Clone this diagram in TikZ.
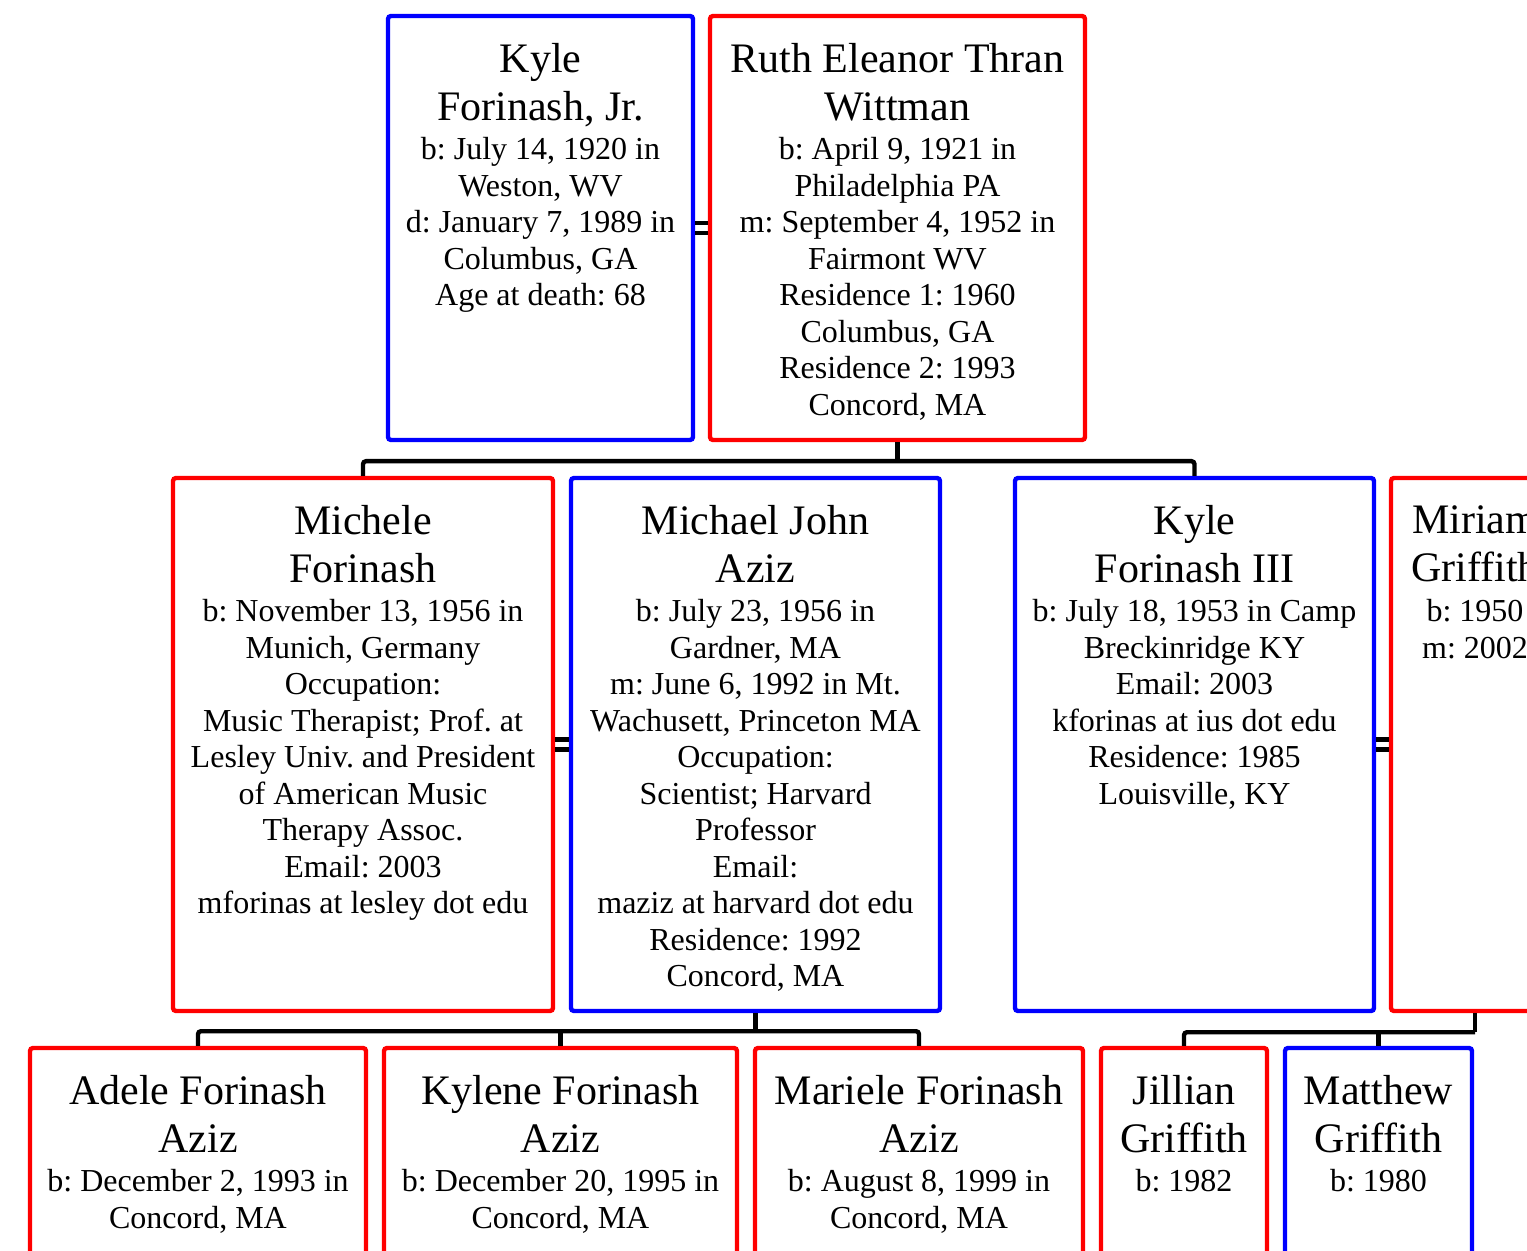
\documentclass[tikz,border=0pt]{standalone}
\usepackage{fontspec}
\setmainfont{Liberation Serif}
\usetikzlibrary{fit}
\frenchspacing
\tikzset{
  pbox/.style={draw=#1, line width=2.2pt, rounded corners=1.5pt, inner sep=0pt},
  namefont/.style={anchor=north, inner sep=0pt, align=center, font=\fontsize{21}{24}\selectfont},
  infofont/.style={anchor=north, inner sep=0pt, align=center, font=\fontsize{16}{18.25}\selectfont},
  conn/.style={draw=black, line width=2.2pt, rounded corners=1.5pt},
  eqbar/.style={draw=black, line width=2.2pt}
}
\newcommand\famperson[6]{%
  \node[pbox=#2, fit={#3}] (#1) {};
  \node[namefont, yshift=-14.7pt] (#1-name) at (#1.north) {#5};
  \node[infofont, yshift=-61.6pt] (#1-info) at (#1.north) {#6};
  \node[inner sep=0pt] (#1-c) at (#1.center) {#4};
}
\begin{document}
\begin{tikzpicture}[x=0.5pt,y=-0.5pt]
\useasboundingbox (0,0) rectangle (1527,1251);
\fill[white] (0,0) rectangle (1527,1251);
\clip (0,0) rectangle (1527,1251);

\famperson{kj}{blue}{(388,16) (693,440)}{}{Kyle\\Forinash, Jr.}{b: July 14, 1920 in\\Weston, WV\\d: January 7, 1989 in\\Columbus, GA\\Age at death: 68}
\famperson{ruth}{red}{(710,16) (1085,440)}{}{Ruth Eleanor Thran\\Wittman}{b: April 9, 1921 in\\Philadelphia PA\\m: September 4, 1952 in\\Fairmont WV\\Residence 1: 1960\\Columbus, GA\\Residence 2: 1993\\Concord, MA}

\famperson{michele}{red}{(173,478) (553,1011)}{}{Michele\\Forinash}{b: November 13, 1956 in\\Munich, Germany\\Occupation:\\Music Therapist; Prof. at\\Lesley Univ. and President\\of American Music\\Therapy Assoc.\\Email: 2003\\mforinas at lesley dot edu}
\famperson{michael}{blue}{(571,478) (940,1011)}{}{Michael John\\Aziz}{b: July 23, 1956 in\\Gardner, MA\\m: June 6, 1992 in Mt.\\Wachusett, Princeton MA\\Occupation:\\Scientist; Harvard\\Professor\\Email:\\maziz at harvard dot edu\\Residence: 1992\\Concord, MA}
\famperson{kyle3}{blue}{(1015,478) (1374,1011)}{}{Kyle\\Forinash III}{b: July 18, 1953 in Camp\\Breckinridge KY\\Email: 2003\\kforinas at ius dot edu\\Residence: 1985\\Louisville, KY}
\famperson{miriam}{red}{(1391,478) (1559,1011)}{}{Miriam\\Griffith}{b: 1950\\m: 2002}

\famperson{adele}{red}{(30,1048) (366,1320)}{}{Adele Forinash\\Aziz}{b: December 2, 1993 in\\Concord, MA}
\famperson{kylene}{red}{(384,1048) (737,1320)}{}{Kylene Forinash\\Aziz}{b: December 20, 1995 in\\Concord, MA}
\famperson{mariele}{red}{(755,1048) (1083,1320)}{}{Mariele Forinash\\Aziz}{b: August 8, 1999 in\\Concord, MA}
\famperson{jillian}{red}{(1101,1048) (1267,1320)}{}{Jillian\\Griffith}{b: 1982}
\famperson{matthew}{blue}{(1285,1048) (1472,1320)}{}{Matthew\\Griffith}{b: 1980}

% marriages
\draw[eqbar] ([yshift=2.5pt]kj.east) -- ([yshift=2.5pt]kj.east -| ruth.west);
\draw[eqbar] ([yshift=-2.5pt]kj.east) -- ([yshift=-2.5pt]kj.east -| ruth.west);
\draw[eqbar] ([yshift=2.5pt]michele.east) -- ([yshift=2.5pt]michele.east -| michael.west);
\draw[eqbar] ([yshift=-2.5pt]michele.east) -- ([yshift=-2.5pt]michele.east -| michael.west);
\draw[eqbar] ([yshift=2.5pt]kyle3.east) -- ([yshift=2.5pt]kyle3.east -| miriam.west);
\draw[eqbar] ([yshift=-2.5pt]kyle3.east) -- ([yshift=-2.5pt]kyle3.east -| miriam.west);

% descent lines
\draw[conn] (ruth.south) -- ++(0,19) coordinate (bar1);
\draw[conn] (michele.north) |- (bar1) -| (kyle3.north);

\draw[conn] (michael.south) -- ++(0,18) coordinate (bar2);
\draw[conn] (adele.north) |- (bar2) -| (mariele.north);
\draw[conn] (kylene.north) -- (kylene.north |- bar2);

\draw[conn] (miriam.south) -- ++(0,19) coordinate (bar3);
\draw[conn] (jillian.north) |- (bar3);
\draw[conn] (matthew.north) -- (matthew.north |- bar3);
\end{tikzpicture}
\end{document}
